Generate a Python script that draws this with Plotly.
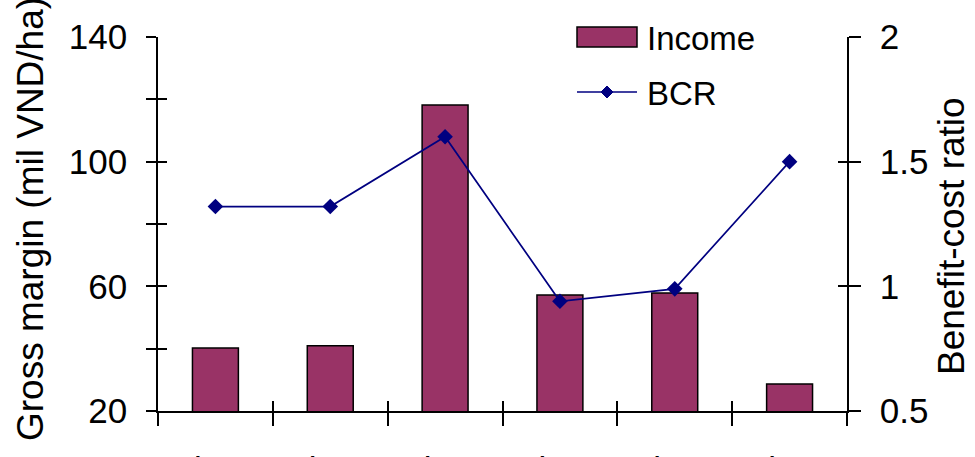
import plotly.graph_objects as go

# ---- data ----
categories = ["Site 1", "Site 2", "Site 3", "Site 4", "Site 5", "Site 6"]
income = [40.2, 40.9, 118.2, 57.2, 57.9, 28.7]
bcr = [1.32, 1.32, 1.60, 0.94, 0.99, 1.50]
left_tickvals = [20, 40, 60, 80, 100, 120, 140]
left_ticktext = ["20", "", "60", "", "100", "", "140"]
right_tickvals = [0.5, 1, 1.5, 2]
right_ticktext = ["0.5", "1", "1.5", "2"]
series_names = ["Income", "BCR"]
left_title = "Gross margin (mil VND/ha)"
right_title = "Benefit-cost ratio"

# ---- layout geometry (pixels) ----
W, H = 975, 457
L, R, T, B = 158, 847, 37, 411
PW, PH = R - L, B - T
FONT = "Liberation Sans, Arial, sans-serif"
BAR_COLOR = "#993366"
LINE_COLOR = "#000080"
TICK_SIZE = 35


def px(xp):
    return (xp - L) / PW


def py(yp):
    return (B - yp) / PH


fig = go.Figure()
fig.add_trace(go.Bar(
    x=categories, y=income, name=series_names[0], width=0.4,
    marker=dict(color=BAR_COLOR, line=dict(color="black", width=1.5)),
    xaxis="x", yaxis="y", showlegend=False))
fig.add_trace(go.Scatter(
    x=categories, y=bcr, name=series_names[1], mode="lines+markers",
    line=dict(color=LINE_COLOR, width=1.7),
    marker=dict(symbol="diamond", size=12, color=LINE_COLOR),
    xaxis="x", yaxis="y2", showlegend=False))
# invisible helper traces so overlay axes draw the inner half of cross ticks
fig.add_trace(go.Scatter(x=categories, y=income, mode="markers", marker=dict(opacity=0),
                         xaxis="x3", yaxis="y3", showlegend=False, hoverinfo="skip"))
fig.add_trace(go.Scatter(x=categories, y=bcr, mode="markers", marker=dict(opacity=0),
                         xaxis="x3", yaxis="y4", showlegend=False, hoverinfo="skip"))

axis_common = dict(showgrid=False, zeroline=False, tickcolor="black", tickwidth=1.5,
                   automargin=False)

fig.update_layout(
    width=W, height=H,
    margin=dict(l=L, r=W - R, t=T, b=H - B, pad=0),
    paper_bgcolor="white", plot_bgcolor="white",
    font=dict(family=FONT, color="black", size=TICK_SIZE),
    showlegend=False,
    xaxis=dict(type="category", range=[-0.5, 5.5], tickson="boundaries",
               ticks="outside", ticklen=13, showline=True, linecolor="black", linewidth=1.5,
               tickfont=dict(size=TICK_SIZE), tickangle=0, ticklabelstandoff=27,
               anchor="y", **axis_common),
    xaxis3=dict(type="category", range=[-0.5, 5.5], tickson="boundaries", overlaying="x",
                ticks="inside", ticklen=10, showticklabels=False, showline=False,
                anchor="y3", **axis_common),
    yaxis=dict(range=[20, 140], tickmode="array", tickvals=left_tickvals, ticktext=left_ticktext,
               ticks="outside", ticklen=10, showline=True, linecolor="black", linewidth=1.5,
               tickfont=dict(size=TICK_SIZE), ticklabelstandoff=12,
               anchor="x", **axis_common),
    yaxis3=dict(range=[20, 140], tickmode="array", tickvals=left_tickvals, overlaying="y",
                ticks="inside", ticklen=9, showticklabels=False, showline=False,
                anchor="x3", **axis_common),
    yaxis2=dict(range=[0.5, 2], tickmode="array", tickvals=right_tickvals, ticktext=right_ticktext,
                overlaying="y", side="right", ticks="outside", ticklen=12,
                showline=True, linecolor="black", linewidth=1.5,
                tickfont=dict(size=TICK_SIZE), ticklabelstandoff=12,
                anchor="x", **axis_common),
    yaxis4=dict(range=[0.5, 2], tickmode="array", tickvals=right_tickvals, overlaying="y",
                side="right", ticks="inside", ticklen=9, showticklabels=False, showline=False,
                anchor="x3", **axis_common),
)

# ---- custom legend and axis titles ----
shapes = [
    dict(type="rect", xref="paper", yref="paper",
         x0=px(577), x1=px(637), y0=py(47), y1=py(27),
         fillcolor=BAR_COLOR, line=dict(color="black", width=1.5)),
    dict(type="line", xref="paper", yref="paper",
         x0=px(577), x1=px(637), y0=py(92), y1=py(92),
         line=dict(color=LINE_COLOR, width=1.7)),
    dict(type="path", xref="paper", yref="paper", xsizemode="pixel", ysizemode="pixel",
         xanchor=px(607), yanchor=py(92), path="M -6,0 L 0,6 L 6,0 L 0,-6 Z",
         fillcolor=LINE_COLOR, line=dict(color=LINE_COLOR, width=1)),
]
annotations = [
    dict(text=series_names[0], xref="paper", yref="paper", x=px(645), y=py(38),
         xanchor="left", yanchor="middle", showarrow=False, font=dict(size=33)),
    dict(text=series_names[1], xref="paper", yref="paper", x=px(645), y=py(93),
         xanchor="left", yanchor="middle", showarrow=False, font=dict(size=33)),
    dict(text=left_title, xref="paper", yref="paper", x=px(31), y=py(219),
         xanchor="center", yanchor="middle", textangle=-90, showarrow=False,
         font=dict(size=37)),
    dict(text=right_title, xref="paper", yref="paper", x=px(951), y=py(236),
         xanchor="center", yanchor="middle", textangle=-90, showarrow=False,
         font=dict(size=37)),
]
fig.update_layout(shapes=shapes, annotations=annotations)

fig.write_html("out.html")
